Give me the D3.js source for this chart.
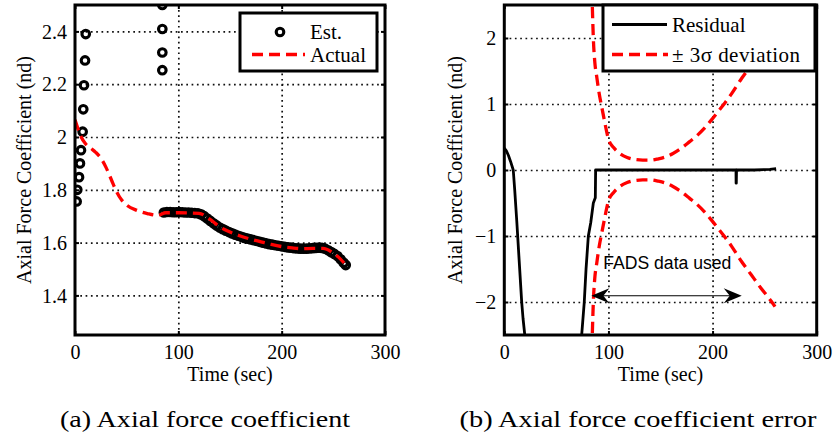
<!DOCTYPE html>
<html><head><meta charset="utf-8">
<script src="https://cdn.jsdelivr.net/npm/d3@7"></script>
<style>body{margin:0;background:#fff} svg{display:block}</style>
</head><body><svg id="c" width="836" height="438"></svg>
<script>
// ---------- DATA ----------
const xTicks = [0, 100, 200, 300];
const yTicksA = [1.4, 1.6, 1.8, 2.0, 2.2, 2.4];
const yTicksB = [-2, -1, 0, 1, 2];

// Panel (a): estimated axial force coefficient (circles)
const estTime = [1.6, 2.2, 3.9, 4.8, 5.8, 7.4, 8.0, 8.7, 9.7, 10.4,
  84.5, 84.5, 84.5, 84.5,
  86, 89, 92, 95, 98, 101, 104, 107, 110, 113, 116, 119, 122, 125, 128, 131, 134, 137, 140,
  143, 146, 149, 152, 155, 158, 161, 164, 167, 170, 173, 176, 179, 182, 185, 188, 191, 194,
  197, 200, 203, 206, 209, 212, 215, 218, 221, 224, 227, 230, 233, 236, 239, 242, 245, 248,
  251, 254, 257, 260, 262];
const estValue = [1.756, 1.80, 1.848, 1.90, 1.95, 2.02, 2.105, 2.196, 2.29, 2.39,
  2.50, 2.409, 2.32, 2.253,
  1.714, 1.716, 1.716, 1.715, 1.715, 1.716, 1.715, 1.714, 1.714, 1.713, 1.712, 1.711, 1.707,
  1.700, 1.691, 1.682, 1.673, 1.665, 1.657, 1.651, 1.645, 1.640, 1.635, 1.630, 1.626, 1.622,
  1.618, 1.615, 1.612, 1.609, 1.606, 1.603, 1.600, 1.597, 1.594, 1.592, 1.590, 1.588, 1.586,
  1.584, 1.582, 1.581, 1.579, 1.578, 1.577, 1.577, 1.577, 1.578, 1.579, 1.580, 1.581, 1.580,
  1.577, 1.571, 1.564, 1.557, 1.549, 1.537, 1.524, 1.515];

// Panel (a): actual axial force coefficient (red dashed)
const actualTime  = [0, 3, 6, 10, 15, 20, 25, 30, 35, 40, 45, 50, 60, 70, 80, 88, 100, 120,
  130, 140, 150, 160, 170, 180, 190, 200, 210, 220, 230, 240, 250, 255, 261];
const actualValue = [2.065, 2.03, 2.0, 1.975, 1.958, 1.942, 1.92, 1.885, 1.84, 1.795, 1.762,
  1.742, 1.722, 1.71, 1.703, 1.713, 1.713, 1.711, 1.69, 1.66, 1.64, 1.625, 1.613, 1.603, 1.593,
  1.585, 1.58, 1.577, 1.578, 1.578, 1.56, 1.545, 1.52];

// Panel (b): residual (black solid)
const resTime  = [0, 2, 4, 6, 8.6, 10, 12, 14, 16.7, 18, 20, 22, 72, 74.3, 76.8, 78.5, 80.7,
  83, 85.5, 87.4, 87.7, 100, 130, 160, 190, 222.5, 222.6, 222.8, 223, 240, 255, 261];
const resValue = [0.33, 0.29, 0.22, 0.13, 0.0, -0.3, -0.78, -1.3, -2.0, -2.25, -2.55, -3.2,
  -3.0, -2.5, -2.0, -1.5, -1.0, -0.8, -0.5, -0.42, 0.0, 0.0, 0.0, 0.0, 0.0, 0.0, -0.2, -0.2, 0.0,
  0.0, 0.01, 0.02];

// Panel (b): 3-sigma bound (drawn as + and -)
const sigTime  = [83, 84.5, 85.5, 87, 88.7, 91, 93.5, 96, 100, 105, 111, 118, 125, 133, 141,
  148, 155, 162, 170, 178, 185, 192, 199, 206, 212, 218, 223, 228, 234, 240, 246, 252, 256, 260];
const sigValue = [3.5, 2.5, 2.0, 1.62, 1.42, 1.17, 0.96, 0.76, 0.47, 0.34, 0.25, 0.19, 0.16,
  0.15, 0.15, 0.17, 0.2, 0.25, 0.33, 0.43, 0.52, 0.63, 0.76, 0.9, 1.02, 1.15, 1.27, 1.39, 1.52,
  1.65, 1.78, 1.9, 1.98, 2.07];

const annotText = "FADS data used";
const arrowFrom = 83.6, arrowTo = 228, arrowLevel = -1.905;

// ---------- DRAW ----------
const svg = d3.select("#c");
svg.append("rect").attr("width", 836).attr("height", 438).attr("fill", "#fff");
const SERIF = "'Liberation Serif','Times New Roman',serif";
const RED = "#ff0000", DASH = "11,6", DASHW = 3.3, CR = 3.8, CW = 3.1;

const xA = d3.scaleLinear().domain([0, 300]).range([75, 385]);
const yA = d3.scaleLinear().domain([1.25, 2.5]).range([335, 5]);
const xB = d3.scaleLinear().domain([0, 300]).range([504.3, 816.7]);
const yB = d3.scaleLinear().domain([-2.5, 2.5]).range([335, 5]);

const defs = svg.append("defs");
function clip(id, x, y) {
  defs.append("clipPath").attr("id", id).append("rect")
    .attr("x", x.range()[0]).attr("y", y.range()[1])
    .attr("width", x.range()[1] - x.range()[0]).attr("height", y.range()[0] - y.range()[1]);
}
clip("clipA", xA, yA); clip("clipB", xB, yB);

function fmtTick(d) {
  const v = +(+d).toFixed(1);
  return v < 0 ? "\u2212" + Math.abs(v) : String(v);
}

function drawGrid(x, y, yTicks) {
  const [x0, x1] = x.range(); const [y0, y1] = y.range();
  const W = x1 - x0, H = y0 - y1;
  const g = svg.append("g");
  const gx = g.append("g").attr("transform", `translate(0,${y0})`)
    .call(d3.axisBottom(x).tickValues(xTicks.filter(t => t > 0 && t < 300)).tickSize(-H).tickFormat(""));
  const gy = g.append("g").attr("transform", `translate(${x0},0)`)
    .call(d3.axisLeft(y).tickValues(yTicks).tickSize(-W).tickFormat(""));
  [gx, gy].forEach(a => {
    a.select(".domain").remove();
    a.selectAll("line").attr("stroke", "#111").attr("stroke-width", 1.7).attr("stroke-dasharray", "1.7,3.6");
  });
}

function drawFrame(x, y, yTicks, yLabel, yLabelX) {
  const [x0, x1] = x.range(); const [y0, y1] = y.range();
  const g = svg.append("g");
  const styleAxis = a => {
    a.select(".domain").remove();
    a.selectAll("line").attr("stroke", "#000").attr("stroke-width", 2);
    a.selectAll("text").attr("font-family", SERIF).attr("font-size", 20).attr("fill", "#000");
  };
  const b = g.append("g").attr("transform", `translate(0,${y0})`)
    .call(d3.axisBottom(x).tickValues(xTicks).tickSize(-4).tickPadding(10).tickFormat(d3.format("d")));
  styleAxis(b);
  const t = g.append("g").attr("transform", `translate(0,${y1})`)
    .call(d3.axisTop(x).tickValues(xTicks).tickSize(-4).tickFormat(""));
  styleAxis(t);
  const l = g.append("g").attr("transform", `translate(${x0},0)`)
    .call(d3.axisLeft(y).tickValues(yTicks).tickSize(-4).tickPadding(8).tickFormat(fmtTick));
  styleAxis(l);
  l.selectAll("text").attr("dy", "0.33em");
  const r = g.append("g").attr("transform", `translate(${x1},0)`)
    .call(d3.axisRight(y).tickValues(yTicks).tickSize(-4).tickFormat(""));
  styleAxis(r);
  g.append("rect").attr("x", x0).attr("y", y1).attr("width", x1 - x0).attr("height", y0 - y1)
    .attr("fill", "none").attr("stroke", "#000").attr("stroke-width", 3);
  g.append("text").attr("x", (x0 + x1) / 2).attr("y", 381).attr("text-anchor", "middle")
    .attr("font-family", SERIF).attr("font-size", 20).text("Time (sec)");
  g.append("text").attr("transform", `translate(${yLabelX},${(y0 + y1) / 2}) rotate(-90)`)
    .attr("text-anchor", "middle").attr("font-family", SERIF).attr("font-size", 20).text(yLabel);
}

// ----- Panel A -----
drawGrid(xA, yA, yTicksA);
const pA = svg.append("g").attr("clip-path", "url(#clipA)");
pA.selectAll("circle").data(estTime.map((t, i) => [t, estValue[i]])).join("circle")
  .attr("cx", d => xA(d[0])).attr("cy", d => yA(d[1])).attr("r", CR)
  .attr("fill", "none").attr("stroke", "#000").attr("stroke-width", CW);
pA.append("path").datum(actualTime.map((t, i) => [t, actualValue[i]]))
  .attr("d", d3.line().x(d => xA(d[0])).y(d => yA(d[1])).curve(d3.curveMonotoneX))
  .attr("fill", "none").attr("stroke", RED).attr("stroke-width", DASHW).attr("stroke-dasharray", DASH);
drawFrame(xA, yA, yTicksA, "Axial Force Coefficient (nd)", 31);

// legend A
const lgA = svg.append("g");
lgA.append("rect").attr("x", 240).attr("y", 13).attr("width", 137).attr("height", 58)
  .attr("fill", "#fff").attr("stroke", "#000").attr("stroke-width", 3);
lgA.append("circle").attr("cx", 280).attr("cy", 32).attr("r", CR)
  .attr("fill", "none").attr("stroke", "#000").attr("stroke-width", CW);
lgA.append("line").attr("x1", 252).attr("x2", 305).attr("y1", 54.5).attr("y2", 54.5)
  .attr("stroke", RED).attr("stroke-width", DASHW).attr("stroke-dasharray", DASH);
lgA.append("text").attr("x", 310).attr("y", 38.5).attr("font-family", SERIF).attr("font-size", 21).text("Est.");
lgA.append("text").attr("x", 310).attr("y", 62).attr("font-family", SERIF).attr("font-size", 21).text("Actual");

// ----- Panel B -----
drawGrid(xB, yB, yTicksB);
const pB = svg.append("g").attr("clip-path", "url(#clipB)");
const sigLine = sign => d3.line().x(d => xB(d[0])).y(d => yB(sign * d[1])).curve(d3.curveMonotoneX);
const sig = sigTime.map((t, i) => [t, sigValue[i]]);
[1, -1].forEach(s => {
  pB.append("path").datum(sig).attr("d", sigLine(s))
    .attr("fill", "none").attr("stroke", RED).attr("stroke-width", DASHW).attr("stroke-dasharray", DASH);
});
pB.append("path").datum(resTime.map((t, i) => [t, resValue[i]]))
  .attr("d", d3.line().x(d => xB(d[0])).y(d => yB(d[1])))
  .attr("fill", "none").attr("stroke", "#000").attr("stroke-width", 2.8).attr("stroke-linejoin", "round");

// annotation
pB.append("text").attr("x", xB(95)).attr("y", 269).attr("font-family", "'Liberation Sans',Arial,sans-serif")
  .attr("font-size", 17.6).attr("fill", "#000").text(annotText);
const ay = yB(arrowLevel), axs = xB(arrowFrom), axe = xB(arrowTo);
pB.append("line").attr("x1", axs + 4).attr("x2", axe - 4).attr("y1", ay).attr("y2", ay)
  .attr("stroke", "#000").attr("stroke-width", 1.2);
function head(tipX, dir) {
  const L = 18, w = 7.5, back = 12;
  return `M${tipX},${ay} L${tipX + dir * L},${ay - w} L${tipX + dir * back},${ay} L${tipX + dir * L},${ay + w} Z`;
}
pB.append("path").attr("d", head(axs, 1)).attr("fill", "#000");
pB.append("path").attr("d", head(axe, -1)).attr("fill", "#000");

drawFrame(xB, yB, yTicksB, "Axial Force Coefficient (nd)", 462);

// legend B
const lgB = svg.append("g");
lgB.append("rect").attr("x", 603).attr("y", 5).attr("width", 212).attr("height", 66)
  .attr("fill", "#fff").attr("stroke", "#000").attr("stroke-width", 3);
lgB.append("line").attr("x1", 612).attr("x2", 667).attr("y1", 24.5).attr("y2", 24.5)
  .attr("stroke", "#000").attr("stroke-width", 2.8);
lgB.append("line").attr("x1", 612).attr("x2", 668).attr("y1", 54.5).attr("y2", 54.5)
  .attr("stroke", RED).attr("stroke-width", DASHW).attr("stroke-dasharray", DASH);
lgB.append("text").attr("x", 672).attr("y", 32).attr("font-family", SERIF).attr("font-size", 21).text("Residual");
lgB.append("text").attr("x", 672).attr("y", 62).attr("font-family", SERIF).attr("font-size", 21)
  .attr("textLength", 128).attr("lengthAdjust", "spacing").text("\u00B1 3\u03C3 deviation");

// captions
svg.append("text").attr("x", 205).attr("y", 427).attr("text-anchor", "middle")
  .attr("font-family", SERIF).attr("font-size", 23).attr("textLength", 290).attr("lengthAdjust", "spacingAndGlyphs")
  .text("(a) Axial force coefficient");
svg.append("text").attr("x", 638).attr("y", 427).attr("text-anchor", "middle")
  .attr("font-family", SERIF).attr("font-size", 23).attr("textLength", 357).attr("lengthAdjust", "spacingAndGlyphs")
  .text("(b) Axial force coefficient error");
</script></body></html>
